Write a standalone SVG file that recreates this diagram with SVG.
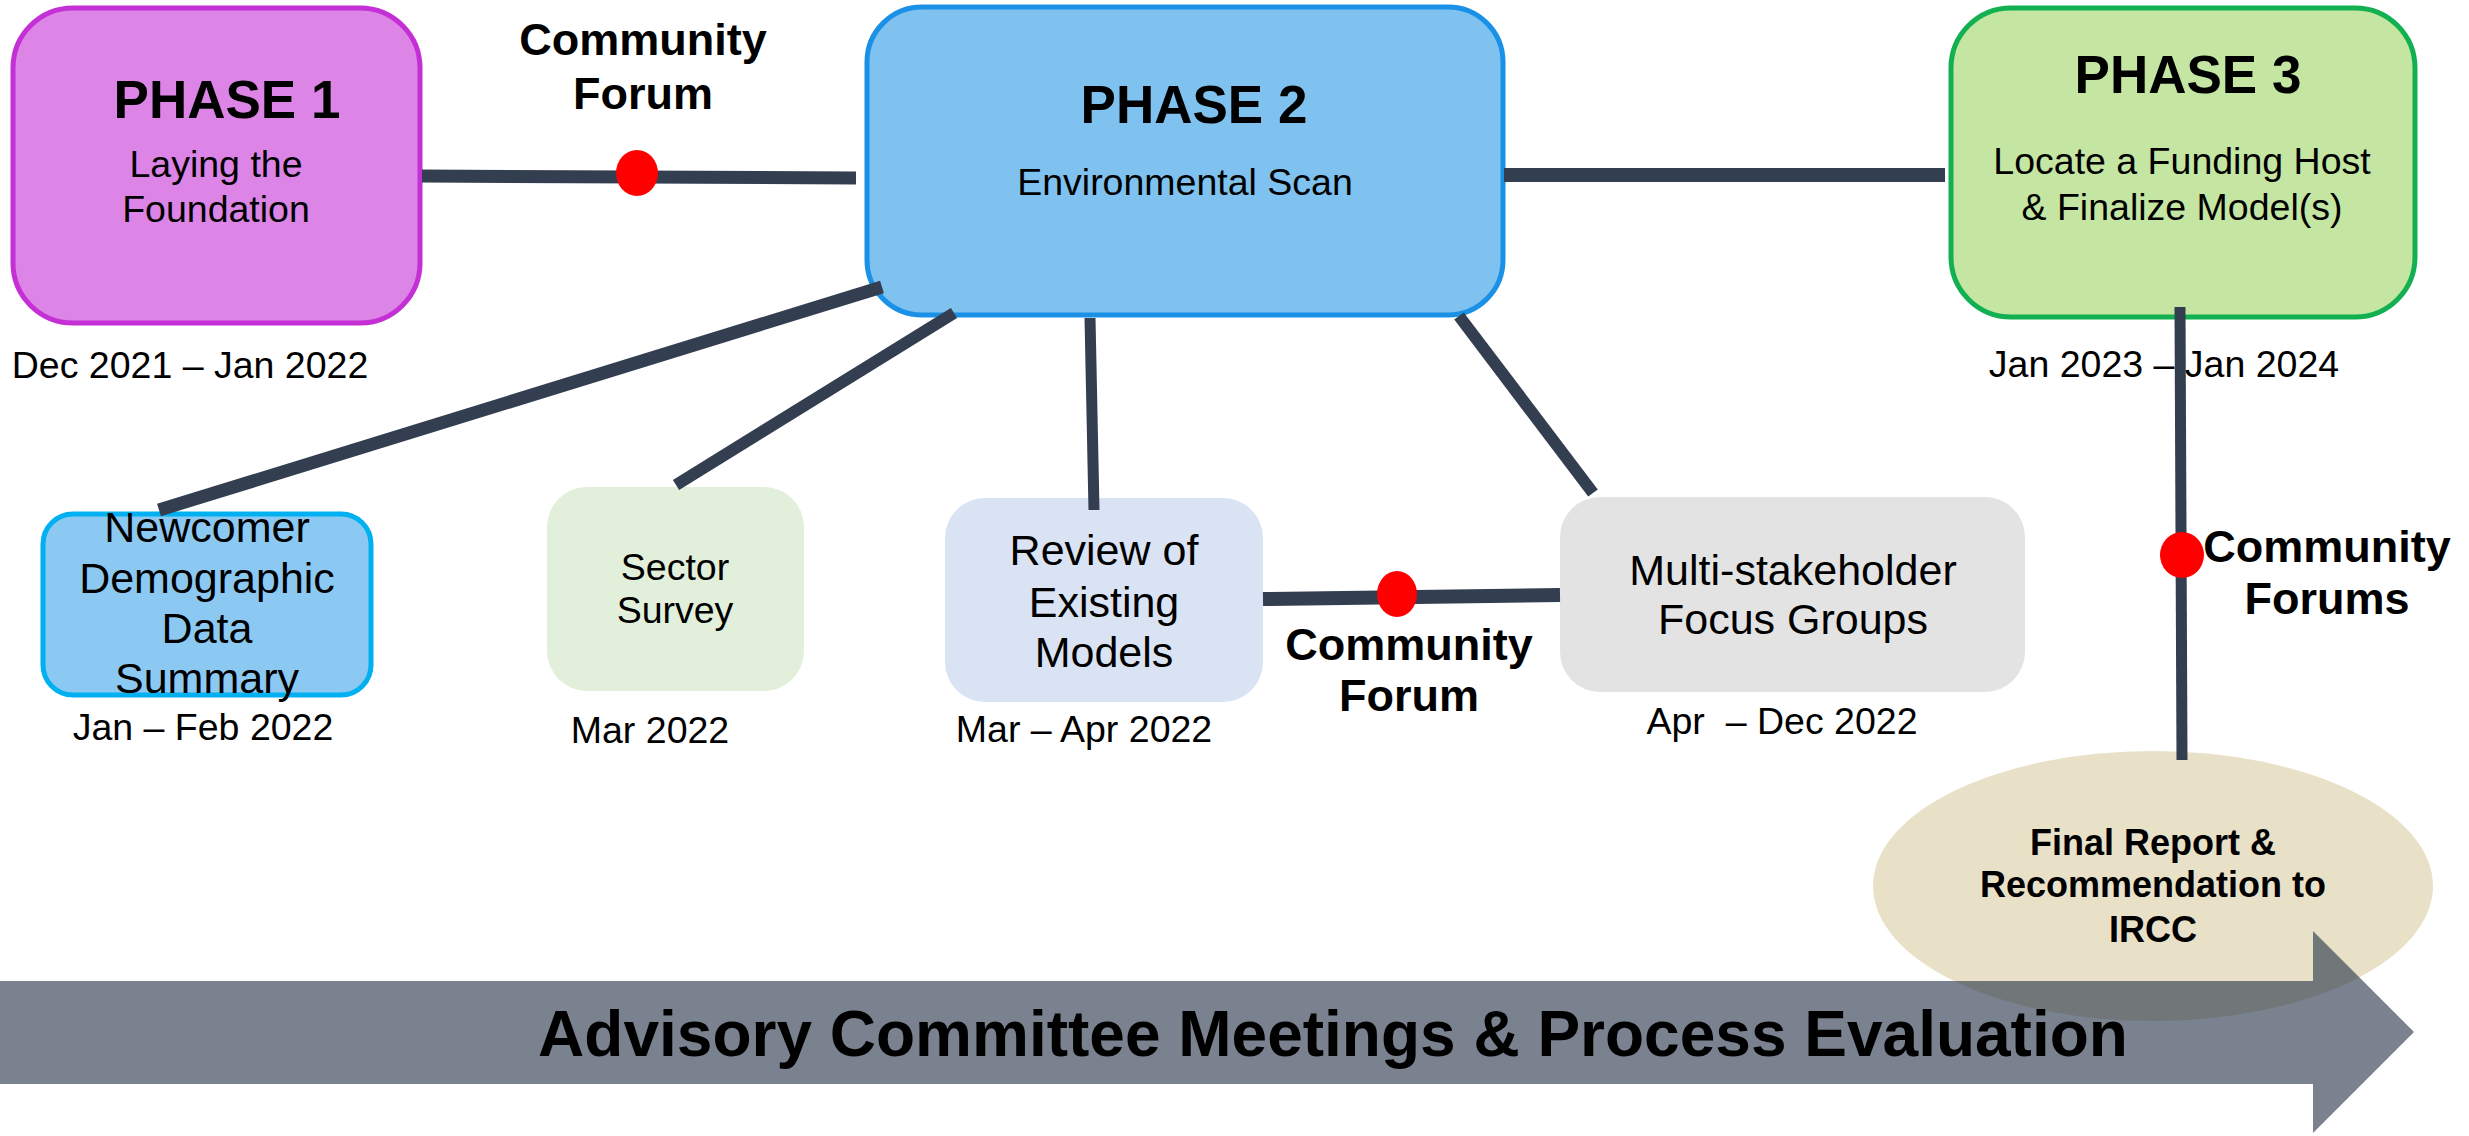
<svg xmlns="http://www.w3.org/2000/svg" width="2469" height="1136" viewBox="0 0 2469 1136">
<style>
text{font-family:"Liberation Sans",Arial,sans-serif;fill:#000;text-anchor:middle}
.b{font-weight:bold}
.t36{font-size:37.5px}
.t40{font-size:43px}
.ph{font-size:53px;font-weight:bold}
.cf{font-size:45px;font-weight:bold}
.fr{font-size:36px;font-weight:bold}
.ln{stroke:#333F50;fill:none}
.dot{fill:#FF0000}
</style>
<rect width="2469" height="1136" fill="#fff"/>

<g id="phase1">
<rect x="13" y="8" width="407" height="315" rx="60" ry="60" fill="#DC85E6" stroke="#C42FD6" stroke-width="5"/>
<text class="ph" x="227" y="118">PHASE 1</text>
<text class="t36" x="216" y="177">Laying the</text>
<text class="t36" x="216" y="222">Foundation</text>
<text class="t36" x="190" y="378">Dec 2021 – Jan 2022</text>
</g>

<g id="phase2">
<rect x="867" y="7" width="636" height="308" rx="55" ry="55" fill="#7FC2EF" stroke="#1A90E6" stroke-width="5"/>
<text class="ph" x="1194" y="123">PHASE 2</text>
<text class="t36" x="1185" y="195">Environmental Scan</text>
</g>

<g id="phase3">
<rect x="1951" y="8" width="464" height="309" rx="60" ry="60" fill="#C5E5A3" stroke="#12B050" stroke-width="5"/>
<text class="ph" x="2188" y="93">PHASE 3</text>
<text class="t36" x="2182" y="174">Locate a Funding Host</text>
<text class="t36" x="2182" y="220">&amp; Finalize Model(s)</text>
<text class="t36" x="2164" y="377">Jan 2023 – Jan 2024</text>
</g>

<g id="newcomer">
<rect x="43" y="514" width="328" height="181" rx="30" ry="30" fill="#8CC9F2" stroke="#00B0F0" stroke-width="5"/>
<text class="t40" x="207" y="542">Newcomer</text>
<text class="t40" x="207" y="593">Demographic</text>
<text class="t40" x="207" y="643">Data</text>
<text class="t40" x="207" y="693">Summary</text>
<text class="t36" x="203" y="740">Jan – Feb 2022</text>
</g>

<g id="sector">
<rect x="547" y="487" width="257" height="204" rx="40" ry="40" fill="#E2EFDA"/>
<text class="t36" x="675" y="580">Sector</text>
<text class="t36" x="675" y="623">Survey</text>
<text class="t36" x="650" y="743">Mar 2022</text>
</g>

<g id="review">
<rect x="945" y="498" width="318" height="204" rx="40" ry="40" fill="#DAE3F3"/>
<text class="t40" x="1104" y="565">Review of</text>
<text class="t40" x="1104" y="617">Existing</text>
<text class="t40" x="1104" y="667">Models</text>
<text class="t36" x="1084" y="742">Mar – Apr 2022</text>
</g>

<g id="multi">
<rect x="1560" y="497" width="465" height="195" rx="40" ry="40" fill="#E3E3E3"/>
<text class="t40" x="1793" y="585">Multi-stakeholder</text>
<text class="t40" x="1793" y="634">Focus Groups</text>
<text class="t36" x="1782" y="734">Apr&#160; – Dec 2022</text>
</g>

<g id="final">
<ellipse cx="2153" cy="886" rx="280" ry="135" fill="#E8E1C8"/>
<text class="fr" x="2153" y="855">Final Report &amp;</text>
<text class="fr" x="2153" y="897">Recommendation to</text>
<text class="fr" x="2153" y="942">IRCC</text>
</g>

<g id="connectors">
<line class="ln" x1="422" y1="176" x2="856" y2="178" stroke-width="13"/>
<line class="ln" x1="1504" y1="175" x2="1945" y2="175" stroke-width="14"/>
<line class="ln" x1="882" y1="287" x2="159" y2="510" stroke-width="13"/>
<line class="ln" x1="954" y1="313" x2="676" y2="485" stroke-width="12"/>
<line class="ln" x1="1090" y1="318" x2="1094" y2="510" stroke-width="11"/>
<line class="ln" x1="1459" y1="316" x2="1593" y2="493" stroke-width="12"/>
<line class="ln" x1="1263" y1="599" x2="1560" y2="595" stroke-width="14"/>
<line class="ln" x1="2180" y1="307" x2="2182" y2="760" stroke-width="11"/>
<ellipse class="dot" cx="637" cy="173" rx="21" ry="23"/>
<ellipse class="dot" cx="1397" cy="594" rx="20" ry="23"/>
<ellipse class="dot" cx="2182" cy="555" rx="22" ry="23"/>
</g>

<g id="forum-labels">
<text class="cf" x="643" y="55">Community</text>
<text class="cf" x="643" y="109">Forum</text>
<text class="cf" x="1409" y="660">Community</text>
<text class="cf" x="1409" y="711">Forum</text>
<text class="cf" x="2327" y="562">Community</text>
<text class="cf" x="2327" y="614">Forums</text>
</g>

<g id="advisory-arrow">
<path d="M0,981 H2313 V931 L2414,1032 L2313,1133 V1084 H0 Z" fill="#222F44" fill-opacity="0.6"/>
<text class="b" style="font-size:64px" x="1333" y="1056">Advisory Committee Meetings &amp; Process Evaluation</text>
</g>
</svg>
